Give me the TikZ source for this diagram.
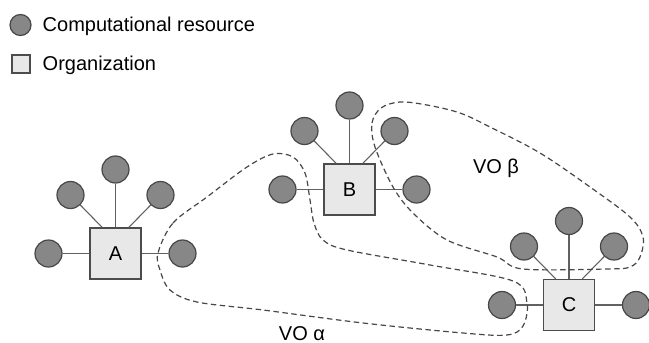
\documentclass[tikz,border=0pt]{standalone}
\usepackage{fontspec}
\setmainfont{Liberation Sans}
\begin{document}
\begin{tikzpicture}[x=1pt,y=-1pt,
 res/.style={circle,draw=black!72,line width=1.2pt,fill=black!47,minimum size=27pt,inner sep=0pt},
 lres/.style={res,minimum size=21pt},
 org/.style={rectangle,draw=black!70,line width=1.2pt,fill=black!9,minimum size=51pt,inner sep=0pt,font=\fontsize{20}{24}\selectfont},
 lorg/.style={org,minimum size=18pt},
 link/.style={draw=black!62,line width=1.1pt},
 vo/.style={draw=black!72,line width=1.2pt,dash pattern=on 5.5pt off 3.5pt},
 lbl/.style={font=\fontsize{20}{24}\selectfont,inner sep=0pt}]
\useasboundingbox (0,0) rectangle (649,343);
% legend
\node[lres] (lc) at (20.5,25) {};
\node[lorg] (ls) at (21,64) {};
\node[lbl,anchor=base west] (lt1) at (42.5,31.5) {Computational resource};
\node[lbl,anchor=base west] (lt2) at (42.5,70.5) {Organization};
% organizations
\node[org] (A) at (115.5,253.5) {A};
\node[org] (B) at (349.5,189.5) {B};
\node[org] (C) at (569,305) {C};
% resources
\node[res] (a1) at (48.5,253.5) {};
\node[res] (a2) at (70.5,195) {};
\node[res] (a3) at (115.5,169.5) {};
\node[res] (a4) at (160.5,195) {};
\node[res] (a5) at (182.5,253.5) {};
\node[res] (b1) at (282.5,189.5) {};
\node[res] (b2) at (304.5,131) {};
\node[res] (b3) at (349.5,105.5) {};
\node[res] (b4) at (394.5,131) {};
\node[res] (b5) at (416.5,189.5) {};
\node[res] (c1) at (502,305) {};
\node[res] (c2) at (524,246.5) {};
\node[res] (c3) at (569,221) {};
\node[res] (c4) at (614,246.5) {};
\node[res] (c5) at (636,305) {};
% links
\foreach \o/\r in {A/a,B/b,C/c}{
  \draw[link] (\o.west) -- (\r1);
  \draw[link] (\o.117) -- (\r2);
  \draw[link] (\o.north) -- (\r3);
  \draw[link] (\o.63) -- (\r4);
  \draw[link] (\o.east) -- (\r5);
}
% virtual organizations
\draw[vo] plot[smooth cycle,tension=0.55] coordinates {
 (158,253) (173,223) (207,197) (247,167) (273,154) (293,157) (305,173) (310,200)
 (314,223) (323,240) (347,250) (430,265) (513,281) (527,303) (523,326) (507,335)
 (463,333) (363,323) (263,310) (197,302) (170,290) (160,270)};
\draw[vo] plot[smooth cycle,tension=0.55] coordinates {
 (375,147) (372,123) (381,108) (400,102) (427,105) (460,113) (490,127) (540,153)
 (590,187) (630,217) (643,237) (640,257) (630,267) (607,269) (523,269) (497,257)
 (447,240) (413,213) (393,187)};
\node[lbl,anchor=base] (va) at (302,340) {VO α};
\node[lbl,anchor=base] (vb) at (496,173.5) {VO β};
\end{tikzpicture}
\end{document}
